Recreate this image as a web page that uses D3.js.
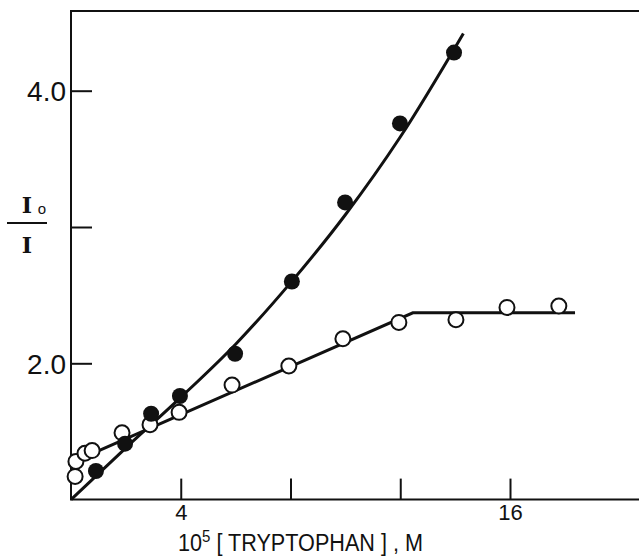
<!DOCTYPE html>
<html>
<head>
<meta charset="utf-8">
<script src="https://cdn.jsdelivr.net/npm/d3@7/dist/d3.min.js"></script>
<style>
  html, body { margin: 0; padding: 0; background: #fff; }
  svg { display: block; }
</style>
</head>
<body>
<svg id="chart" width="639" height="557"></svg>
<script>
// filled circles (upper series)
const filledX = [0.91, 1.97, 2.92, 3.97, 5.98, 8.05, 9.99, 11.99, 13.96];
const filledY = [1.21, 1.41, 1.63, 1.76, 2.07, 2.60, 3.18, 3.76, 4.28];

// open circles (lower series)
const openX = [0.15, 0.18, 0.51, 0.77, 1.86, 2.88, 3.94, 5.87, 7.94, 9.91, 11.95, 14.03, 15.89, 17.78];
const openY = [1.17, 1.28, 1.34, 1.36, 1.49, 1.55, 1.64, 1.84, 1.98, 2.18, 2.30, 2.32, 2.41, 2.42];

// hand drawn curve through the filled points
const filledCurveX = [0, 2, 4, 6, 8, 10, 12, 14.3];
const filledCurveY = [1.0, 1.38, 1.75, 2.14, 2.59, 3.09, 3.66, 4.42];

// broken line through the open points
const openLineX = [0, 12.46, 18.37];
const openLineY = [1.27, 2.37, 2.37];

// ticks
const xTicks = [4, 8, 12, 16];
const xTickLabels = ["4", "", "", "16"];
const yTicks = [2, 3, 4];
const yTickLabels = ["2.0", "", "4.0"];

const svg = d3.select("#chart");

const x = d3.scaleLinear().domain([0, 16]).range([71, 510]);
const y = d3.scaleLinear().domain([2, 4]).range([363.3, 90.7]);

const xMin = 0, xMax = x.invert(639);
const yMin = 1, yMax = y.invert(11);

const ink = "#111";

// frame: left, bottom and top lines
const frame = svg.append("g")
  .attr("fill", "none")
  .attr("stroke", ink)
  .attr("stroke-width", 2);
frame.append("path")
  .attr("d", ["M", x(xMax), y(yMax), "L", x(xMin), y(yMax), "L", x(xMin), y(yMin), "L", x(xMax), y(yMin)].join(" "));

// x axis, ticks pointing inward
const xAxis = svg.append("g")
  .attr("transform", `translate(0,${y(yMin)})`)
  .call(d3.axisBottom(x)
    .tickValues(xTicks)
    .tickSize(-21)
    .tickPadding(5)
    .tickFormat((d, i) => xTickLabels[i]));
xAxis.select(".domain").remove();
xAxis.selectAll(".tick line").attr("stroke", ink).attr("stroke-width", 2);
xAxis.selectAll(".tick text")
  .attr("fill", ink)
  .attr("font-family", "Liberation Sans, Arial, sans-serif")
  .attr("font-size", 22);

// y axis, ticks pointing inward
const yAxis = svg.append("g")
  .attr("transform", `translate(${x(xMin)},0)`)
  .call(d3.axisLeft(y)
    .tickValues(yTicks)
    .tickSize(-21)
    .tickPadding(5)
    .tickFormat((d, i) => yTickLabels[i]));
yAxis.select(".domain").remove();
yAxis.selectAll(".tick line").attr("stroke", ink).attr("stroke-width", 2);
yAxis.selectAll(".tick text")
  .attr("fill", ink)
  .attr("font-family", "Liberation Sans, Arial, sans-serif")
  .attr("font-size", 28)
  .attr("dy", "0.36em");

// curves
const line = d3.line()
  .x(d => x(d[0]))
  .y(d => y(d[1]));

svg.append("path")
  .datum(filledCurveX.map((v, i) => [v, filledCurveY[i]]))
  .attr("fill", "none")
  .attr("stroke", ink)
  .attr("stroke-width", 3)
  .attr("d", line.curve(d3.curveMonotoneX));

svg.append("path")
  .datum(openLineX.map((v, i) => [v, openLineY[i]]))
  .attr("fill", "none")
  .attr("stroke", ink)
  .attr("stroke-width", 3)
  .attr("d", line.curve(d3.curveLinear));

// points
svg.append("g").selectAll("circle")
  .data(openX.map((v, i) => [v, openY[i]]))
  .enter().append("circle")
  .attr("cx", d => x(d[0]))
  .attr("cy", d => y(d[1]))
  .attr("r", 7.5)
  .attr("fill", "#fff")
  .attr("stroke", ink)
  .attr("stroke-width", 2);

svg.append("g").selectAll("circle")
  .data(filledX.map((v, i) => [v, filledY[i]]))
  .enter().append("circle")
  .attr("cx", d => x(d[0]))
  .attr("cy", d => y(d[1]))
  .attr("r", 8)
  .attr("fill", ink);

// x axis title
const title = svg.append("text")
  .attr("x", 178)
  .attr("y", 551)
  .attr("fill", ink)
  .attr("font-family", "Liberation Sans, Arial, sans-serif")
  .attr("font-size", 23)
  .attr("textLength", 245)
  .attr("lengthAdjust", "spacingAndGlyphs");
title.append("tspan").text("10");
title.append("tspan").attr("font-size", 16).attr("dy", -9).text("5");
title.append("tspan").attr("dy", 9).text(" [ TRYPTOPHAN ] , M");

// y axis title, I0 over I
const yTitle = svg.append("g")
  .attr("fill", ink)
  .attr("font-family", "DejaVu Serif, Liberation Serif, serif")
  .attr("font-weight", "bold");
yTitle.append("text").attr("x", 27).attr("y", 213).attr("text-anchor", "middle")
  .attr("font-size", 22).text("I");
yTitle.append("text").attr("x", 42).attr("y", 214).attr("text-anchor", "middle")
  .attr("font-family", "Liberation Sans, Arial, sans-serif")
  .attr("font-weight", "normal")
  .attr("font-size", 15).text("o");
yTitle.append("line")
  .attr("x1", 7).attr("x2", 47).attr("y1", 223).attr("y2", 223)
  .attr("stroke", ink).attr("stroke-width", 2);
yTitle.append("text").attr("x", 27).attr("y", 253).attr("text-anchor", "middle")
  .attr("font-size", 22).text("I");
</script>
</body>
</html>
